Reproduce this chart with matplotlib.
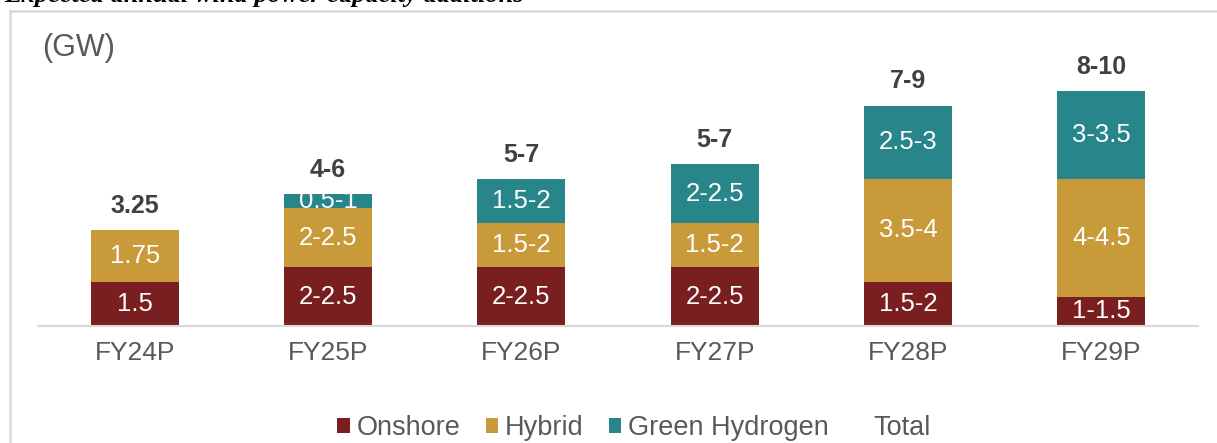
import matplotlib.pyplot as plt
import numpy as np

plt.rcParams['font.family'] = ['Liberation Sans', 'DejaVu Sans']

years = ['FY24P', 'FY25P', 'FY26P', 'FY27P', 'FY28P', 'FY29P']
onshore = [1.5, 2, 2, 2, 1.5, 1]
hybrid = [1.75, 2, 1.5, 1.5, 3.5, 4]
green = [0, 0.5, 1.5, 2, 2.5, 3]
onshore_lbl = ['1.5', '2-2.5', '2-2.5', '2-2.5', '1.5-2', '1-1.5']
hybrid_lbl = ['1.75', '2-2.5', '1.5-2', '1.5-2', '3.5-4', '4-4.5']
green_lbl = ['', '0.5-1', '1.5-2', '2-2.5', '2.5-3', '3-3.5']
total_lbl = ['3.25', '4-6', '5-7', '5-7', '7-9', '8-10']

c_on = '#7A1F1F'
c_hy = '#C99A3A'
c_gr = '#28868A'

W, H = 1217, 443
fig = plt.figure(figsize=(W / 100, H / 100), dpi=100)
ax = fig.add_axes([38 / W, 117 / H, 1160 / W, 264.6 / H])

x = np.arange(len(years))
w = 0.455
on = np.array(onshore)
hy = np.array(hybrid)
gr = np.array(green)
b1 = ax.bar(x, on, w, color=c_on, label='Onshore')
b2 = ax.bar(x, hy, w, bottom=on, color=c_hy, label='Hybrid')
b3 = ax.bar(x, gr, w, bottom=on + hy, color=c_gr, label='Green Hydrogen')
tot, = ax.plot([], [], color='none', label='Total')

fs = 18.5
for i in range(len(years)):
    ax.text(x[i], on[i] / 2, onshore_lbl[i], ha='center', va='center', color='white', fontsize=fs)
    ax.text(x[i], on[i] + hy[i] / 2, hybrid_lbl[i], ha='center', va='center', color='white', fontsize=fs)
    if green_lbl[i]:
        ax.text(x[i], on[i] + hy[i] + gr[i] / 2, green_lbl[i], ha='center', va='center', color='white', fontsize=fs)
    top = on[i] + hy[i] + gr[i]
    ax.text(x[i], top + 0.82, total_lbl[i], ha='center', va='center', color='#404040',
            fontsize=18, fontweight='bold')

ax.set_xlim(-0.5, 5.5)
ax.set_ylim(0, 9)
ax.set_xticks(x)
ax.set_xticklabels(years, fontsize=19, color='#595959')
ax.tick_params(axis='x', length=0, pad=11)
ax.set_yticks([])
for s in ['top', 'right', 'left']:
    ax.spines[s].set_visible(False)
ax.spines['bottom'].set_color('#D9D9D9')
ax.spines['bottom'].set_linewidth(1.5)

leg = fig.legend([b1, b2, b3, tot], ['Onshore', 'Hybrid', 'Green Hydrogen', 'Total'],
                 loc='center', bbox_to_anchor=(634 / W, 1 - 428 / H), ncol=4, frameon=False,
                 fontsize=19.5, handlelength=0.45, handleheight=0.45, handletextpad=0.26,
                 columnspacing=0.93, borderpad=0)
for t in leg.get_texts():
    t.set_color('#595959')

fig.text(42 / W, 1 - 48 / H, '(GW)', fontsize=22, color='#595959', ha='left', va='center')

# border box (only left and top edges visible)
fig.add_artist(plt.Line2D([10 / W, 10 / W], [0, 1 - 11 / H], color='#D9D9D9', lw=1.8,
                          transform=fig.transFigure))
fig.add_artist(plt.Line2D([10 / W, 1], [1 - 11 / H, 1 - 11 / H], color='#D9D9D9', lw=1.8,
                          transform=fig.transFigure))

# cut-off caption at the very top
fig.text(4 / W, 1 - 2 / H, 'Expected annual wind power capacity additions', fontsize=19,
         family='Liberation Serif', style='italic', fontweight='bold', color='black',
         ha='left', va='baseline')

fig.savefig('out.png', dpi=100)
